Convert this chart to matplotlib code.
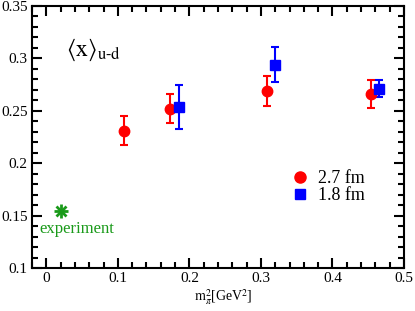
import numpy as np
import matplotlib
matplotlib.use("Agg")
import matplotlib.pyplot as plt
from matplotlib.lines import Line2D
from matplotlib.ticker import MultipleLocator

plt.rcParams['font.family'] = ['Liberation Serif', 'DejaVu Serif']
plt.rcParams['mathtext.fontset'] = 'stix'

# lattice data, L = 2.7 fm
mpi2_27 = [0.108, 0.173, 0.309, 0.454]
x_27 = [0.231, 0.252, 0.269, 0.266]
err_27 = [0.014, 0.014, 0.014, 0.0135]

# lattice data, L = 1.8 fm
mpi2_18 = [0.186, 0.319, 0.465]
x_18 = [0.254, 0.294, 0.271]
err_18 = [0.021, 0.0165, 0.008]

# experiment
mpi2_exp = [0.02]
x_exp = [0.154]

red = '#ff0000'
blue = '#0000ff'
green = '#1a9a1a'

fig = plt.figure(figsize=(4.15, 3.11), dpi=100)
ax = fig.add_axes([0.0771, 0.1383, 0.8964, 0.8424])

ax.errorbar(mpi2_27, x_27, yerr=err_27, fmt='o', color=red, ms=7.5,
            elinewidth=1.5, capsize=3, capthick=1.5)
ax.errorbar(mpi2_18, x_18, yerr=err_18, fmt='s', color=blue, ms=7,
            elinewidth=1.5, capsize=3, capthick=1.5)
ax.plot(mpi2_exp, x_exp, marker='+', color=green, ms=9.5, mew=2, ls='none')
ax.plot(mpi2_exp, x_exp, marker='x', color=green, ms=7, mew=2, ls='none')
ax.text(0.043, 0.1337, 'experiment', color=green, fontsize=12,
        ha='center', va='baseline')

ax.text(0.027, 0.302, r'$\langle\mathrm{x}\rangle_{\mathrm{u\text{-}d}}$',
        fontsize=17, ha='left', va='baseline')

handles = [Line2D([], [], marker='o', color=red, ls='none', ms=8),
           Line2D([], [], marker='s', color=blue, ls='none', ms=7)]
ax.legend(handles, ['2.7 fm', '1.8 fm'], loc='upper left',
          bbox_to_anchor=(0.696, 0.374), frameon=False, fontsize=13,
          handletextpad=0.5, labelspacing=0.0, borderpad=0, borderaxespad=0,
          handlelength=1.0)

ax.set_xlim(-0.02, 0.5)
ax.set_ylim(0.1, 0.35)
ax.xaxis.set_minor_locator(MultipleLocator(0.02))
ax.yaxis.set_minor_locator(MultipleLocator(0.01))
ax.set_xticks([0, 0.1, 0.2, 0.3, 0.4, 0.5])
ax.set_xticklabels(['0', '0.1', '0.2', '0.3', '0.4', '0.5'])
ax.set_yticks([0.1, 0.15, 0.2, 0.25, 0.3, 0.35])
ax.set_yticklabels(['0.1', '0.15', '0.2', '0.25', '0.3', '0.35'])
ax.tick_params(which='both', direction='in', top=True, right=True,
               labelsize=11, width=1.5)
ax.tick_params(which='major', length=7, pad=3)
ax.tick_params(which='minor', length=4)
for s in ax.spines.values():
    s.set_linewidth(1.5)

ax.set_xlabel(r'$\mathrm{m}_{\pi}^{2}$[GeV$^{2}$]', fontsize=10, labelpad=1)
ax.xaxis.set_label_coords(0.515, -0.075)

fig.savefig('out.png', dpi=100)
